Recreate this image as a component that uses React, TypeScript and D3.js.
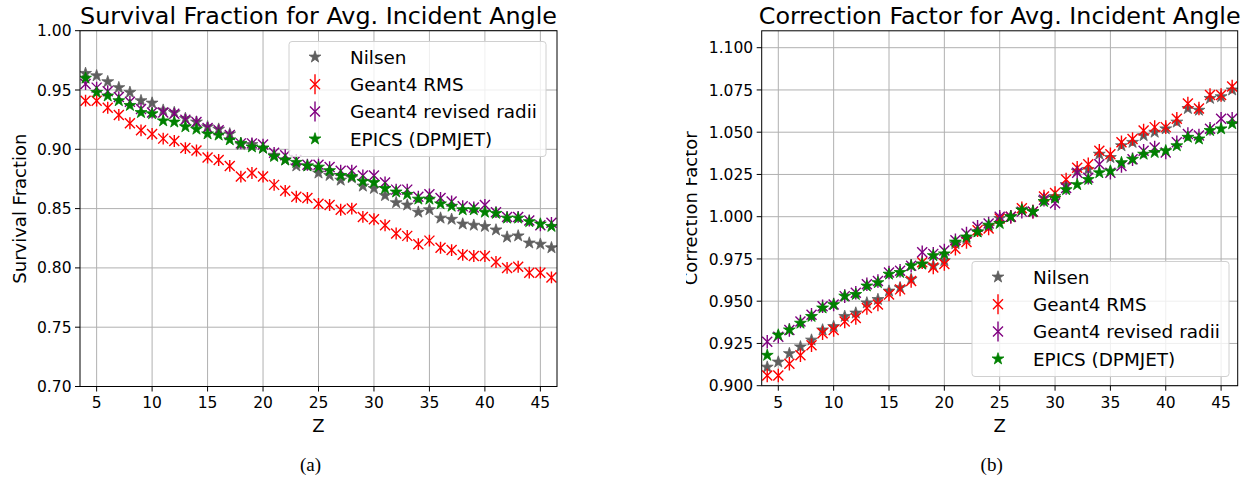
/**
 * Survival fraction / correction factor vs. Z, two panels side by side.
 */
import React, {useEffect, useRef} from 'react';
import * as d3 from 'd3';

// Z values shared by every series
const zValues = [
  4, 5, 6, 7, 8, 9, 10, 11, 12, 13, 14, 15, 16, 17, 18, 19, 20, 21, 22, 23, 24,
  25, 26, 27, 28, 29, 30, 31, 32, 33, 34, 35, 36, 37, 38, 39, 40, 41, 42, 43,
  44, 45, 46,
];

const seriesNames = ['Nilsen', 'Geant4 RMS', 'Geant4 revised radii', 'EPICS (DPMJET)'];

// (a) survival fraction
const survNilsen = [
  0.964, 0.962, 0.957, 0.952, 0.948, 0.941, 0.939, 0.933, 0.931, 0.926, 0.923,
  0.919, 0.917, 0.913, 0.904, 0.904, 0.901, 0.895, 0.891, 0.886, 0.886, 0.88,
  0.878, 0.874, 0.876, 0.869, 0.867, 0.861, 0.855, 0.853, 0.847, 0.849, 0.842,
  0.841, 0.837, 0.836, 0.835, 0.832, 0.826, 0.827, 0.821, 0.82, 0.817,
];
const survRms = [
  0.941, 0.941, 0.935, 0.929, 0.922, 0.916, 0.913, 0.909, 0.907, 0.901, 0.899,
  0.893, 0.891, 0.886, 0.877, 0.88, 0.877, 0.87, 0.865, 0.86, 0.859, 0.854,
  0.853, 0.849, 0.85, 0.843, 0.841, 0.836, 0.829, 0.827, 0.82, 0.823, 0.817,
  0.815, 0.811, 0.81, 0.81, 0.805, 0.8, 0.801, 0.796, 0.796, 0.792,
];
const survRevised = [
  0.955, 0.952, 0.949, 0.944, 0.94, 0.934, 0.931, 0.931, 0.93, 0.925, 0.923,
  0.918, 0.916, 0.912, 0.905, 0.905, 0.904, 0.897, 0.895, 0.891, 0.887, 0.887,
  0.885, 0.882, 0.882, 0.878, 0.878, 0.872, 0.866, 0.866, 0.86, 0.862, 0.859,
  0.856, 0.852, 0.851, 0.853, 0.847, 0.843, 0.843, 0.84, 0.836, 0.838,
];
const survEpics = [
  0.96, 0.948, 0.945, 0.941, 0.937, 0.931, 0.93, 0.924, 0.923, 0.919, 0.917,
  0.913, 0.912, 0.908, 0.905, 0.902, 0.901, 0.894, 0.891, 0.889, 0.886, 0.885,
  0.882, 0.878, 0.877, 0.873, 0.872, 0.867, 0.864, 0.862, 0.858, 0.858, 0.854,
  0.852, 0.849, 0.849, 0.847, 0.846, 0.842, 0.842, 0.839, 0.837, 0.835,
];

// (b) correction factor
const corrNilsen = [
  0.911, 0.914, 0.919, 0.923, 0.927, 0.933, 0.935, 0.941, 0.943, 0.949, 0.951,
  0.956, 0.958, 0.963, 0.972, 0.971, 0.974, 0.984, 0.987, 0.991, 0.994, 0.999,
  1.0, 1.004, 1.003, 1.011, 1.012, 1.019, 1.027, 1.028, 1.037, 1.035, 1.042,
  1.044, 1.048, 1.05, 1.052, 1.056, 1.064, 1.063, 1.07, 1.071, 1.075,
];
const corrRms = [
  0.906, 0.906, 0.913, 0.918, 0.924, 0.931, 0.933, 0.938, 0.94, 0.946, 0.948,
  0.954, 0.957, 0.962, 0.973, 0.97, 0.972, 0.981, 0.985, 0.992, 0.993, 0.999,
  1.0, 1.005, 1.003, 1.012, 1.014, 1.022, 1.029, 1.031, 1.039, 1.037, 1.044,
  1.046, 1.051, 1.053, 1.053, 1.058, 1.067, 1.064, 1.072, 1.072, 1.077,
];
const corrRevised = [
  0.926, 0.929, 0.933, 0.938, 0.942, 0.947, 0.948, 0.953, 0.955, 0.96, 0.962,
  0.967, 0.968, 0.971, 0.979, 0.978, 0.98, 0.986, 0.99, 0.994, 0.996, 1.0, 1.0,
  1.003, 1.003, 1.01, 1.008, 1.017, 1.026, 1.023, 1.031, 1.026, 1.03, 1.034,
  1.039, 1.041, 1.038, 1.044, 1.049, 1.048, 1.052, 1.058, 1.058,
];
const corrEpics = [
  0.918, 0.93, 0.933, 0.937, 0.941, 0.946, 0.948, 0.953, 0.954, 0.959, 0.961,
  0.966, 0.967, 0.971, 0.972, 0.977, 0.978, 0.985, 0.988, 0.991, 0.995, 0.996,
  1.0, 1.004, 1.003, 1.009, 1.011, 1.016, 1.019, 1.022, 1.026, 1.027, 1.032,
  1.034, 1.037, 1.038, 1.039, 1.042, 1.047, 1.046, 1.051, 1.052, 1.055,
];

// error bar half-heights of the Geant4 series
const survErr = 0.005;
const corrErr = 0.004;

const xTicks = [5, 10, 15, 20, 25, 30, 35, 40, 45];
const survTicks = [0.7, 0.75, 0.8, 0.85, 0.9, 0.95, 1.0];
const corrTicks = [0.9, 0.925, 0.95, 0.975, 1.0, 1.025, 1.05, 1.075, 1.1];

const FONT = 'DejaVu Sans, sans-serif';
const colors = ['#5f5f5f', '#ff0000', '#800080', '#008000'];
const markers = ['star', 'x', 'x', 'star'];

interface PanelSpec {
  id: string;
  title: string;
  yLabel: string;
  caption: string;
  rect: {x0: number; x1: number; y0: number; y1: number};
  yDomain: [number, number];
  yTicks: number[];
  yFormat: string;
  series: number[][];
  err: number;
  legend: {x: number; y: number};
  yLabelX: number;
  clipX: number;
}

const panels: PanelSpec[] = [
  {
    id: 'a',
    title: 'Survival Fraction for Avg. Incident Angle',
    yLabel: 'Survival Fraction',
    caption: '(a)',
    rect: {x0: 80, x1: 557, y0: 30.7, y1: 386.5},
    yDomain: [0.7, 1.0],
    yTicks: survTicks,
    yFormat: '.2f',
    series: [survNilsen, survRms, survRevised, survEpics],
    err: survErr,
    legend: {x: 289, y: 41.5},
    yLabelX: 26,
    clipX: 0,
  },
  {
    id: 'b',
    title: 'Correction Factor for Avg. Incident Angle',
    yLabel: 'Correction Factor',
    caption: '(b)',
    rect: {x0: 761.7, x1: 1237.7, y0: 30.8, y1: 385.7},
    yDomain: [0.9, 1.11],
    yTicks: corrTicks,
    yFormat: '.3f',
    series: [corrNilsen, corrRms, corrRevised, corrEpics],
    err: corrErr,
    legend: {x: 972, y: 261.5},
    yLabelX: 697,
    clipX: 686,
  },
];

const star = d3.symbol().type(d3.symbolStar).size(44);
const xMark = (r: number) => `M${-r},${-r}L${r},${r}M${-r},${r}L${r},${-r}`;

const drawMarker = (
  g: d3.Selection<SVGGElement, unknown, null, undefined>,
  kind: string,
  color: string,
  cx: number,
  cy: number,
) => {
  if (kind === 'star') {
    g.append('path')
      .attr('d', star()!)
      .attr('transform', `translate(${cx},${cy})`)
      .attr('fill', color)
      .attr('stroke', color)
      .attr('stroke-width', 0.8);
  } else {
    g.append('path')
      .attr('d', xMark(5))
      .attr('transform', `translate(${cx},${cy})`)
      .attr('fill', 'none')
      .attr('stroke', color)
      .attr('stroke-width', 1.4);
  }
};

const drawPanel = (
  root: d3.Selection<SVGSVGElement, unknown, null, undefined>,
  p: PanelSpec,
) => {
  const {x0, x1, y0, y1} = p.rect;
  const x = d3.scaleLinear().domain([3.5, 46.5]).range([x0, x1]);
  const y = d3.scaleLinear().domain(p.yDomain).range([y1, y0]);

  const defs = root.append('defs');
  defs
    .append('clipPath')
    .attr('id', `plot-${p.id}`)
    .append('rect')
    .attr('x', x0)
    .attr('y', y0)
    .attr('width', x1 - x0)
    .attr('height', y1 - y0);
  defs
    .append('clipPath')
    .attr('id', `fig-${p.id}`)
    .append('rect')
    .attr('x', p.clipX)
    .attr('y', 0)
    .attr('width', 1250 - p.clipX)
    .attr('height', 480);

  const g = root.append('g').attr('clip-path', `url(#fig-${p.id})`);

  // Grid
  const grid = g.append('g').attr('stroke', '#b0b0b0').attr('stroke-width', 1);
  xTicks.forEach((t) =>
    grid.append('line').attr('x1', x(t)).attr('x2', x(t)).attr('y1', y0).attr('y2', y1),
  );
  p.yTicks.forEach((t) =>
    grid.append('line').attr('x1', x0).attr('x2', x1).attr('y1', y(t)).attr('y2', y(t)),
  );

  // Data
  const plot = g.append('g').attr('clip-path', `url(#plot-${p.id})`);
  p.series.forEach((vals, si) => {
    const sg = plot.append('g');
    vals.forEach((v, i) => {
      const cx = x(zValues[i]);
      if (markers[si] === 'x') {
        sg.append('line')
          .attr('x1', cx)
          .attr('x2', cx)
          .attr('y1', y(v - p.err))
          .attr('y2', y(v + p.err))
          .attr('stroke', colors[si])
          .attr('stroke-width', 1.4);
      }
      drawMarker(sg, markers[si], colors[si], cx, y(v));
    });
  });

  // Spines
  g.append('rect')
    .attr('x', x0)
    .attr('y', y0)
    .attr('width', x1 - x0)
    .attr('height', y1 - y0)
    .attr('fill', 'none')
    .attr('stroke', '#000')
    .attr('stroke-width', 1);

  // Ticks
  const fmt = d3.format(p.yFormat);
  xTicks.forEach((t) => {
    g.append('line')
      .attr('x1', x(t))
      .attr('x2', x(t))
      .attr('y1', y1)
      .attr('y2', y1 + 5)
      .attr('stroke', '#000');
    g.append('text')
      .attr('x', x(t))
      .attr('y', 408)
      .attr('text-anchor', 'middle')
      .attr('font-family', FONT)
      .attr('font-size', 15.5)
      .text(t);
  });
  p.yTicks.forEach((t) => {
    g.append('line')
      .attr('x1', x0 - 5)
      .attr('x2', x0)
      .attr('y1', y(t))
      .attr('y2', y(t))
      .attr('stroke', '#000');
    g.append('text')
      .attr('x', x0 - 8.5)
      .attr('y', y(t))
      .attr('dy', '0.36em')
      .attr('text-anchor', 'end')
      .attr('font-family', FONT)
      .attr('font-size', 15.5)
      .text(fmt(t));
  });

  // Labels
  const cx = (x0 + x1) / 2;
  g.append('text')
    .attr('x', cx)
    .attr('y', 23.5)
    .attr('text-anchor', 'middle')
    .attr('font-family', FONT)
    .attr('font-size', 23.8)
    .text(p.title);
  g.append('text')
    .attr('x', cx)
    .attr('y', 432)
    .attr('text-anchor', 'middle')
    .attr('font-family', FONT)
    .attr('font-size', 18)
    .text('Z');
  g.append('text')
    .attr('transform', `translate(${p.yLabelX},${(y0 + y1) / 2}) rotate(-90)`)
    .attr('text-anchor', 'middle')
    .attr('font-family', FONT)
    .attr('font-size', 18)
    .text(p.yLabel);
  g.append('text')
    .attr('x', cx - 8)
    .attr('y', 471)
    .attr('text-anchor', 'middle')
    .attr('font-family', 'Liberation Serif, serif')
    .attr('font-size', 19)
    .text(p.caption);

  // Legend
  const lg = g.append('g').attr('transform', `translate(${p.legend.x},${p.legend.y})`);
  lg.append('rect')
    .attr('width', 257)
    .attr('height', 115)
    .attr('rx', 3)
    .attr('fill', '#fff')
    .attr('fill-opacity', 0.8)
    .attr('stroke', '#d0d0d0')
    .attr('stroke-width', 1);
  seriesNames.forEach((name, si) => {
    const ry = 15.5 + si * 27.3;
    if (markers[si] === 'x') {
      lg.append('line')
        .attr('x1', 26)
        .attr('x2', 26)
        .attr('y1', ry - 10)
        .attr('y2', ry + 10)
        .attr('stroke', colors[si])
        .attr('stroke-width', 1.4);
    }
    drawMarker(lg, markers[si], colors[si], 26, ry);
    lg.append('text')
      .attr('x', 61)
      .attr('y', ry + 6.7)
      .attr('font-family', FONT)
      .attr('font-size', 18.4)
      .text(name);
  });
};

export default function App() {
  const svgRef = useRef<SVGSVGElement>(null);

  useEffect(() => {
    if (!svgRef.current) return;
    const svg = d3.select(svgRef.current);
    svg.selectAll('*').remove();
    panels.forEach((p) => drawPanel(svg, p));
  }, []);

  return (
    <svg
      ref={svgRef}
      width={1250}
      height={480}
      style={{position: 'absolute', left: 0, top: 0, background: '#fff'}}
    />
  );
}
